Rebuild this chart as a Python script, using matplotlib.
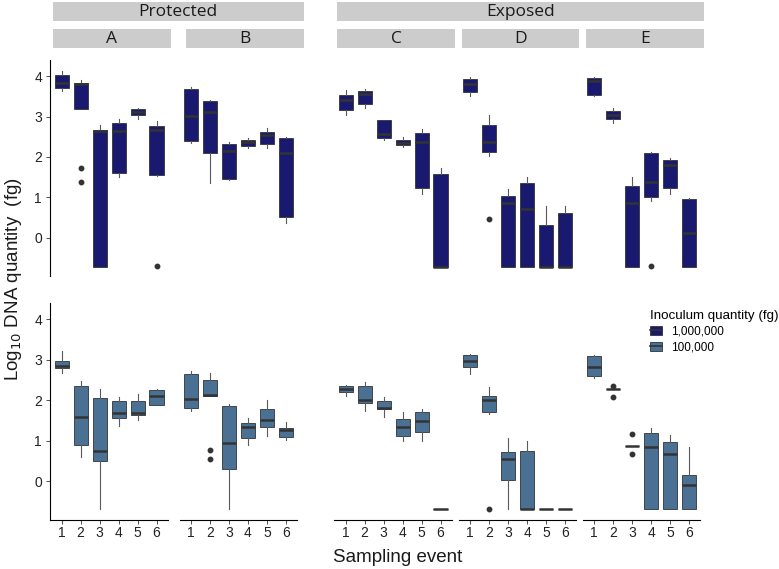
import matplotlib
matplotlib.use("Agg")
import matplotlib.pyplot as plt
from matplotlib.patches import Patch
from matplotlib.lines import Line2D

plt.rcParams["font.family"] = ["Liberation Sans", "DejaVu Sans"]

events = [1, 2, 3, 4, 5, 6]
sites = ["A", "B", "C", "D", "E"]
legend_labels = ["1,000,000", "100,000"]

# (whisker low, q1, median, q3, whisker high) per sampling event
# inoculum 1,000,000 fg
hi_A = [(3.62, 3.71, 3.84, 4.03, 4.13), (3.18, 3.18, 3.80, 3.82, 3.90), (-0.72, -0.72, 2.65, 2.67, 2.80),
        (1.50, 1.59, 2.65, 2.83, 2.94), (2.93, 3.04, 3.10, 3.18, 3.22), (1.53, 1.55, 2.66, 2.77, 2.88)]
hi_B = [(2.35, 2.40, 3.01, 3.67, 3.72), (1.36, 2.10, 3.11, 3.38, 3.41), (1.42, 1.45, 2.15, 2.33, 2.38),
        (2.23, 2.28, 2.36, 2.43, 2.48), (2.23, 2.31, 2.54, 2.62, 2.71), (0.37, 0.50, 2.09, 2.48, 2.50)]
hi_C = [(3.04, 3.15, 3.40, 3.53, 3.66), (3.22, 3.30, 3.55, 3.63, 3.67), (2.42, 2.48, 2.57, 2.91, 2.91),
        (2.25, 2.29, 2.35, 2.41, 2.50), (1.08, 1.22, 2.36, 2.58, 2.70), (-0.72, -0.72, -0.72, 1.58, 1.73)]
hi_D = [(3.51, 3.61, 3.80, 3.94, 3.99), (2.03, 2.13, 2.36, 2.78, 3.04), (-0.72, -0.72, 0.87, 1.03, 1.20),
        (-0.72, -0.72, 0.72, 1.36, 1.49), (-0.72, -0.72, -0.72, 0.32, 0.78), (-0.72, -0.72, -0.72, 0.61, 0.79)]
hi_E = [(3.51, 3.54, 3.89, 3.96, 3.98), (2.84, 2.94, 3.05, 3.14, 3.20), (-0.72, -0.72, 0.87, 1.29, 1.49),
        (0.90, 1.01, 1.39, 2.09, 2.13), (1.08, 1.22, 1.81, 1.92, 1.98), (-0.72, -0.72, 0.12, 0.95, 0.97)]
hi_A_out = [[], [1.73, 1.37], [], [], [], [-0.71]]
hi_B_out = [[], [], [], [], [], []]
hi_C_out = [[], [], [], [], [], []]
hi_D_out = [[], [0.46], [], [], [], []]
hi_E_out = [[], [], [], [-0.70], [], []]

# inoculum 100,000 fg
lo_A = [(2.67, 2.78, 2.83, 2.97, 3.21), (0.60, 0.89, 1.57, 2.34, 2.46), (-0.69, 0.49, 0.74, 2.04, 2.28),
        (1.37, 1.56, 1.69, 1.98, 2.07), (1.51, 1.63, 1.67, 1.98, 2.15), (1.87, 1.88, 2.09, 2.24, 2.28)]
lo_B = [(1.74, 1.81, 2.02, 2.65, 2.71), (2.11, 2.11, 2.13, 2.49, 2.67), (-0.69, 0.30, 0.95, 1.85, 1.91),
        (0.88, 1.05, 1.33, 1.43, 1.56), (1.10, 1.34, 1.51, 1.79, 1.99), (1.01, 1.09, 1.27, 1.30, 1.46)]
lo_C = [(2.09, 2.21, 2.27, 2.34, 2.37), (1.74, 1.93, 1.99, 2.34, 2.44), (1.57, 1.78, 1.81, 1.98, 2.08),
        (1.00, 1.10, 1.33, 1.52, 1.70), (1.00, 1.20, 1.47, 1.71, 1.77), (-0.70, -0.70, -0.70, -0.70, -0.70)]
lo_D = [(2.65, 2.81, 2.96, 3.11, 3.13), (1.65, 1.71, 1.99, 2.11, 2.32), (-0.70, 0.03, 0.55, 0.72, 1.05),
        (-0.70, -0.70, -0.70, 0.74, 1.00), (-0.70, -0.70, -0.70, -0.70, -0.70), (-0.70, -0.70, -0.70, -0.70, -0.70)]
lo_E = [(2.55, 2.59, 2.81, 3.08, 3.10), (2.26, 2.26, 2.26, 2.26, 2.26), (0.86, 0.86, 0.86, 0.86, 0.86),
        (-0.70, -0.70, 0.85, 1.19, 1.32), (-0.70, -0.70, 0.67, 0.96, 1.13), (-0.70, -0.70, -0.10, 0.16, 0.83)]
lo_A_out = [[], [], [], [], [], []]
lo_B_out = [[], [0.76, 0.55], [], [], [], []]
lo_C_out = [[], [], [], [], [], []]
lo_D_out = [[], [-0.70], [], [], [], []]
lo_E_out = [[], [2.35, 2.07], [1.15, 0.67], [], [], []]

top_data = {"A": (hi_A, hi_A_out), "B": (hi_B, hi_B_out), "C": (hi_C, hi_C_out),
            "D": (hi_D, hi_D_out), "E": (hi_E, hi_E_out)}
bot_data = {"A": (lo_A, lo_A_out), "B": (lo_B, lo_B_out), "C": (lo_C, lo_C_out),
            "D": (lo_D, lo_D_out), "E": (lo_E, lo_E_out)}

col_hi = "#191970"
col_lo = "#4a7194"
edge = "#333333"

W, H = 779, 569
fig = plt.figure(figsize=(W / 100, H / 100), dpi=100)


def px_axes(x0, x1, y0, y1):
    return fig.add_axes([x0 / W, 1 - y1 / H, (x1 - x0) / W, (y1 - y0) / H])


def to_stats(rows, outs):
    return [dict(whislo=r[0], q1=r[1], med=r[2], q3=r[3], whishi=r[4], fliers=o)
            for r, o in zip(rows, outs)]


panel_x = {"A": (50.3, 168), "B": (179.6, 297.4), "C": (334.3, 452),
           "D": (458.6, 576.4), "E": (582.6, 700.4)}
row_y = [(60, 276), (302.8, 519.5)]

for r, (data, col) in enumerate([(top_data, col_hi), (bot_data, col_lo)]):
    for s in sites:
        x0, x1 = panel_x[s]
        ax = px_axes(x0, x1, *row_y[r])
        rows, outs = data[s]
        ax.bxp(to_stats(rows, outs), positions=events, widths=0.75, patch_artist=True,
               showcaps=False,
               boxprops=dict(facecolor=col, edgecolor=edge, linewidth=0.6),
               medianprops=dict(color=edge, linewidth=1.8),
               whiskerprops=dict(color="#5a5a5a", linewidth=0.8),
               flierprops=dict(marker="o", markerfacecolor=edge, markeredgecolor=edge,
                               markersize=3.2))
        ax.set_xlim(0.4, 6.6)
        ax.set_ylim(-0.95, 4.4)
        ax.set_facecolor("none")
        for sp in ["top", "right"]:
            ax.spines[sp].set_visible(False)
        if s == "A":
            ax.set_yticks([0, 1, 2, 3, 4])
            ax.tick_params(axis="y", length=3, width=0.6, color="#333333",
                           labelsize=10, labelcolor="#222222", pad=3)
            ax.spines["left"].set_linewidth(0.8)
        else:
            ax.spines["left"].set_visible(False)
            ax.set_yticks([])
        if r == 1:
            ax.set_xticks(events)
            ax.set_xticklabels([str(e) for e in events])
            ax.tick_params(axis="x", length=3, width=0.6, color="#333333",
                           labelsize=10, labelcolor="#222222", pad=2)
            ax.spines["bottom"].set_linewidth(0.8)
        else:
            ax.spines["bottom"].set_visible(False)
            ax.set_xticks([])

# facet strips
strip_font = ["Open Sans", "DejaVu Sans"]
groups = [("Protected", 52.7, 304), ("Exposed", 337.3, 704)]
strips = [("A", 52.7, 171), ("B", 186, 304), ("C", 337.3, 455), ("D", 461.7, 579.3), ("E", 586, 704)]
for label, x0, x1 in groups:
    sa = px_axes(x0, x1, 2.3, 21)
    sa.set_facecolor("#cccccc")
    sa.set_xticks([]); sa.set_yticks([])
    for sp in sa.spines.values():
        sp.set_visible(False)
    sa.text(0.5, 0.47, label, ha="center", va="center", fontsize=12.5,
            family=strip_font, color="#1a1a1a", transform=sa.transAxes)
for label, x0, x1 in strips:
    sa = px_axes(x0, x1, 29, 48)
    sa.set_facecolor("#cccccc")
    sa.set_xticks([]); sa.set_yticks([])
    for sp in sa.spines.values():
        sp.set_visible(False)
    sa.text(0.5, 0.47, label, ha="center", va="center", fontsize=12.5,
            family=strip_font, color="#1a1a1a", transform=sa.transAxes)

# axis titles
fig.text(14 / W, 1 - 279 / H, "Log$_{10}$ DNA quantity  (fg)", rotation=90,
         ha="center", va="center", fontsize=13.5, color="#1a1a1a")
fig.text(398 / W, 1 - 557 / H, "Sampling event", ha="center", va="center",
         fontsize=13.5, color="#1a1a1a")

# legend
handles = [(Patch(facecolor=c, edgecolor=edge, linewidth=0.6), Line2D([], [], color=edge, linewidth=1.2))
           for c in [col_hi, col_lo]]
leg = fig.legend(handles, legend_labels, title="Inoculum quantity (fg)",
                 loc="upper left", bbox_to_anchor=(642 / W, 1 - 302 / H),
                 frameon=False, fontsize=8.5, title_fontsize=9.6, alignment="left",
                 handlelength=1.0, handleheight=0.8, handletextpad=0.8,
                 labelspacing=0.3, borderpad=0.2)

fig.savefig("out.png", dpi=100)
